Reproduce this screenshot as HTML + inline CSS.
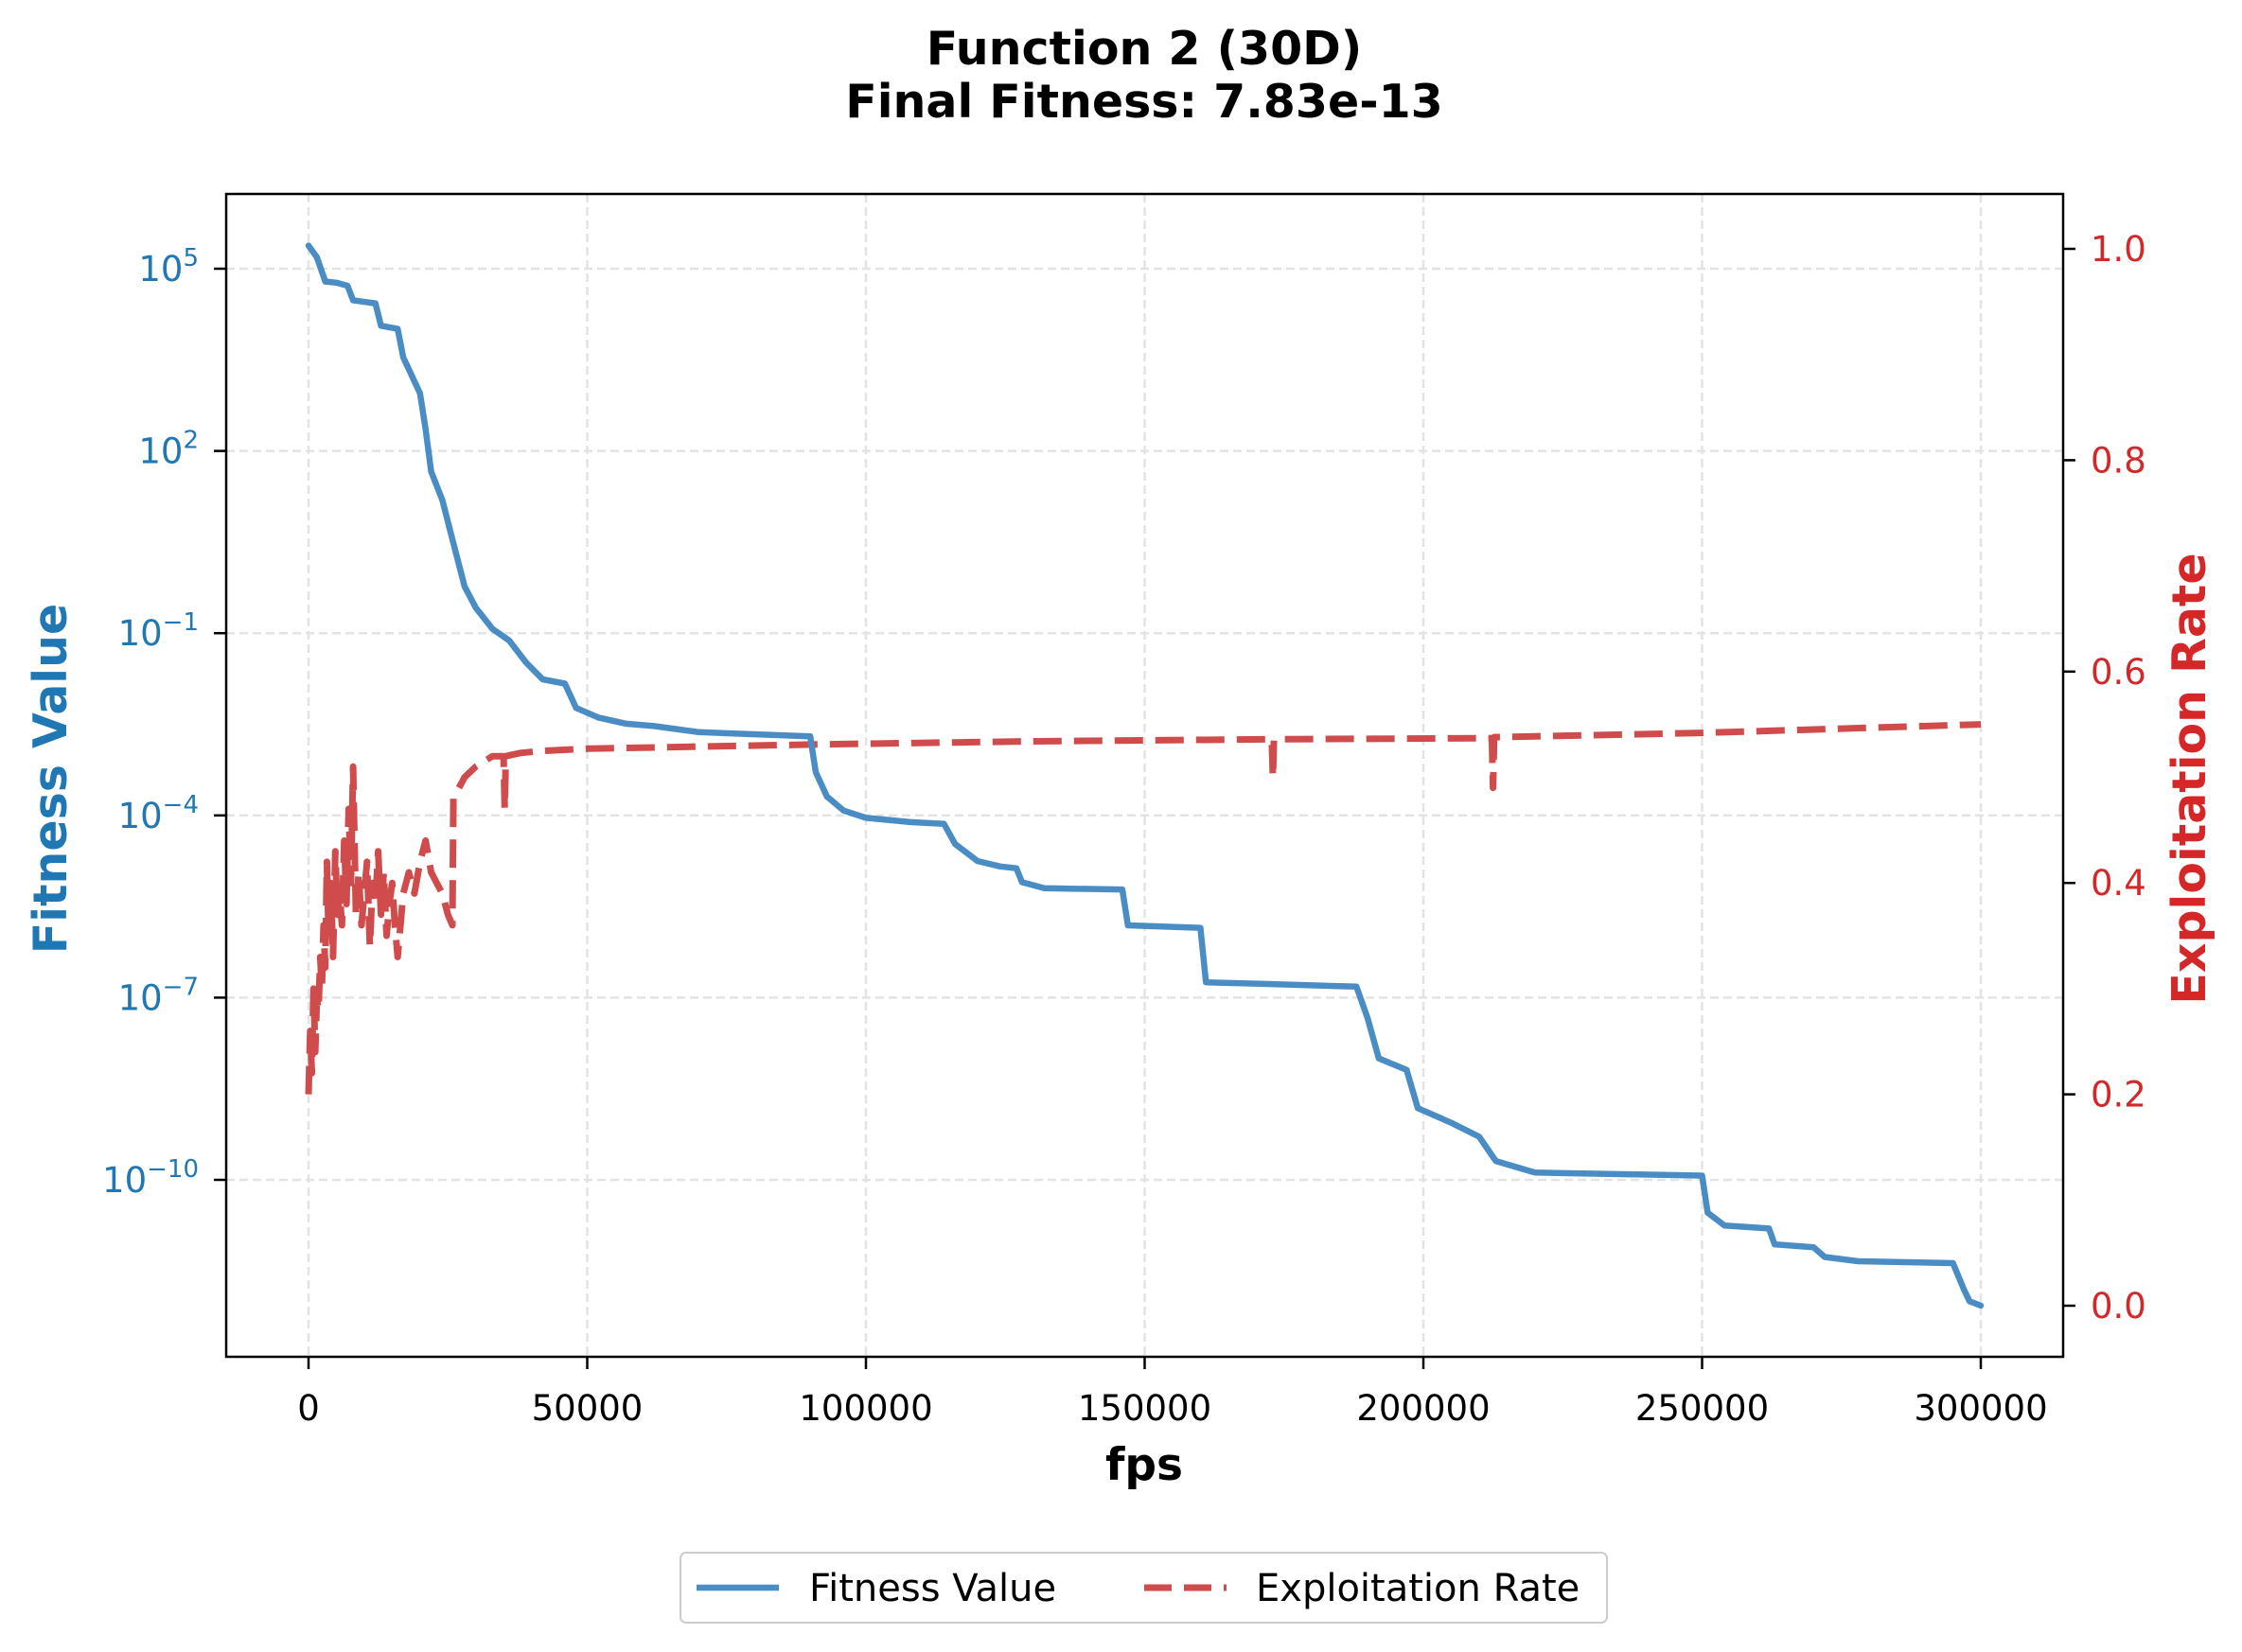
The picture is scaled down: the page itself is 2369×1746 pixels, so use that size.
<!DOCTYPE html>
<html><head><meta charset="utf-8"><style>
html,body{margin:0;padding:0;background:#fff;}
svg{display:block;font-family:"DejaVu Sans","Liberation Sans",sans-serif;}
</style></head><body>
<svg id="chart" width="2369" height="1746" viewBox="0 0 2369 1746" xmlns="http://www.w3.org/2000/svg">
<rect width="2369" height="1746" fill="#fff"/>
<text x="1209" y="68" text-anchor="middle" font-size="49" font-weight="bold">Function 2 (30D)</text>
<text x="1209" y="124" text-anchor="middle" font-size="49" font-weight="bold">Final Fitness: 7.83e-13</text>
<g id="grid"></g>
<g id="series"></g>
<rect x="239" y="205" width="1941" height="1229" fill="none" stroke="#000" stroke-width="2.5"/>
<g id="axes"></g>
<text x="1209" y="1564" text-anchor="middle" font-size="47" font-weight="bold">fps</text>
<text transform="translate(70,823) rotate(-90)" text-anchor="middle" font-size="49" font-weight="bold" fill="#1f77b4">Fitness Value</text>
<text transform="translate(2330,823) rotate(-90)" text-anchor="middle" font-size="49" font-weight="bold" fill="#d62728">Exploitation Rate</text>
<g>
<rect x="719" y="1641" width="979" height="74" rx="6" fill="#fff" stroke="#ccc" stroke-width="2"/>
<line x1="736" y1="1678" x2="823" y2="1678" stroke="#4a8cc4" stroke-width="6.5"/>
<text x="855" y="1692" font-size="40">Fitness Value</text>
<line x1="1209" y1="1678" x2="1296" y2="1678" stroke="#d04b4b" stroke-width="7" stroke-dasharray="29 13"/>
<text x="1327" y="1692" font-size="40">Exploitation Rate</text>
</g>
</svg>
<script>
const fitX=[0,1500,3000,5000,7000,8000,12000,13000,16000,17000,20000,21000,22000,24000,26000,28000,30000,33000,36000,39000,42000,46000,48000,52000,57000,62000,70000,90000,91000,93000,96000,100000,108000,114000,116000,120000,124000,127000,128000,132000,146000,147000,160000,161000,170000,188000,190000,192000,197000,199000,205000,210000,213000,220000,250000,251000,254000,262000,263000,270000,272000,278000,295000,297000,298000,300000];
const fitLog=[5.38,5.19,4.79,4.77,4.72,4.48,4.43,4.06,4.01,3.54,2.95,2.36,1.66,1.19,0.48,-0.23,-0.58,-0.93,-1.12,-1.48,-1.76,-1.83,-2.23,-2.39,-2.49,-2.53,-2.63,-2.70,-3.29,-3.69,-3.92,-4.04,-4.11,-4.14,-4.47,-4.75,-4.84,-4.87,-5.10,-5.20,-5.22,-5.81,-5.85,-6.75,-6.77,-6.82,-7.34,-8.00,-8.19,-8.82,-9.06,-9.29,-9.69,-9.88,-9.93,-10.54,-10.75,-10.80,-11.06,-11.11,-11.27,-11.34,-11.37,-11.81,-12.00,-12.07];
const expX=[0,300,600,900,1200,1500,1800,2100,2400,2700,3000,3300,3600,4000,4400,4800,5200,5600,6000,6400,6800,7200,7600,8000,8500,9000,9500,10000,10500,11000,11500,12000,12500,13000,13500,14000,14500,15000,15500,16000,17000,18000,19000,20000,21000,22000,23000,24000,25000,25800,26000,28000,30000,33000,35000,35200,35400,38000,42000,50000,70000,90000,130000,172800,173000,173200,212300,212500,212700,250000,300000];
const expY=[0.20,0.26,0.22,0.30,0.24,0.29,0.28,0.33,0.30,0.36,0.32,0.42,0.35,0.40,0.33,0.43,0.37,0.39,0.36,0.44,0.38,0.47,0.40,0.51,0.37,0.41,0.36,0.39,0.42,0.34,0.40,0.38,0.43,0.37,0.41,0.35,0.38,0.40,0.36,0.33,0.39,0.41,0.39,0.42,0.44,0.41,0.40,0.39,0.37,0.36,0.48,0.50,0.51,0.52,0.52,0.47,0.52,0.523,0.525,0.527,0.529,0.531,0.534,0.536,0.50,0.536,0.537,0.49,0.538,0.542,0.55];
const xTicks=[0,50000,100000,150000,200000,250000,300000];
const leftTicks=[5,2,-1,-4,-7,-10];
const rightTicks=[0,0.2,0.4,0.6,0.8,1.0];
const NS='http://www.w3.org/2000/svg';
const X=v=>326+(v/300000)*(2093-326);
const YL=l=>284+(5-l)*(1247-284)/15;
const YR=r=>1380-r*(1380-263);
function mk(tag,attrs,parent){const e=document.createElementNS(NS,tag);for(const k in attrs)e.setAttribute(k,attrs[k]);parent.appendChild(e);return e;}
const grid=document.getElementById('grid'),axes=document.getElementById('axes'),series=document.getElementById('series');
xTicks.forEach(t=>{
 const g=mk('line',{x1:X(t),x2:X(t),y1:205,y2:1434,stroke:'#e3e3e3','stroke-width':2.5,'stroke-dasharray':'9 5'},grid);
 
 
 const tk=mk('line',{x1:X(t),x2:X(t),y1:1434,y2:1447,stroke:'#000','stroke-width':2.5},axes);
 
 
 const tx=mk('text',{x:X(t),y:1501,'text-anchor':'middle','font-size':37},axes);
 
 
 tx.textContent=String(t);
});
leftTicks.forEach(t=>{
 const g=mk('line',{x1:239,x2:2180,y1:YL(t),y2:YL(t),stroke:'#e3e3e3','stroke-width':2.5,'stroke-dasharray':'9 5'},grid);
 
 
 const tk=mk('line',{x1:226,x2:239,y1:YL(t),y2:YL(t),stroke:'#000','stroke-width':2.5},axes);
 
 
 const tx=mk('text',{x:210,y:YL(t)+13,'text-anchor':'end','font-size':37,fill:'#1f77b4'},axes);
 
 
 tx.textContent='10';
 const sp=mk('tspan',{dy:-16,'font-size':26},tx);
 sp.textContent=(t<0?'\u2212'+(-t):String(t));
});
rightTicks.forEach(t=>{
 const tk=mk('line',{x1:2180,x2:2193,y1:YR(t),y2:YR(t),stroke:'#000','stroke-width':2.5},axes);
 
 
 const tx=mk('text',{x:2209,y:YR(t)+13,'font-size':37,fill:'#d62728'},axes);
 
 
 tx.textContent=t.toFixed(1);
});
const ep=mk('polyline',{points:expX.map((x,i)=>X(x).toFixed(1)+','+YR(expY[i]).toFixed(1)).join(' '),fill:'none',stroke:'#d04b4b','stroke-width':7,'stroke-dasharray':'30 13','stroke-linejoin':'round'},series);


const fp=mk('polyline',{points:fitX.map((x,i)=>X(x).toFixed(1)+','+YL(fitLog[i]).toFixed(1)).join(' '),fill:'none',stroke:'#4a8cc4','stroke-width':6.5,'stroke-linejoin':'round','stroke-linecap':'round'},series);


</script>
</body></html>
